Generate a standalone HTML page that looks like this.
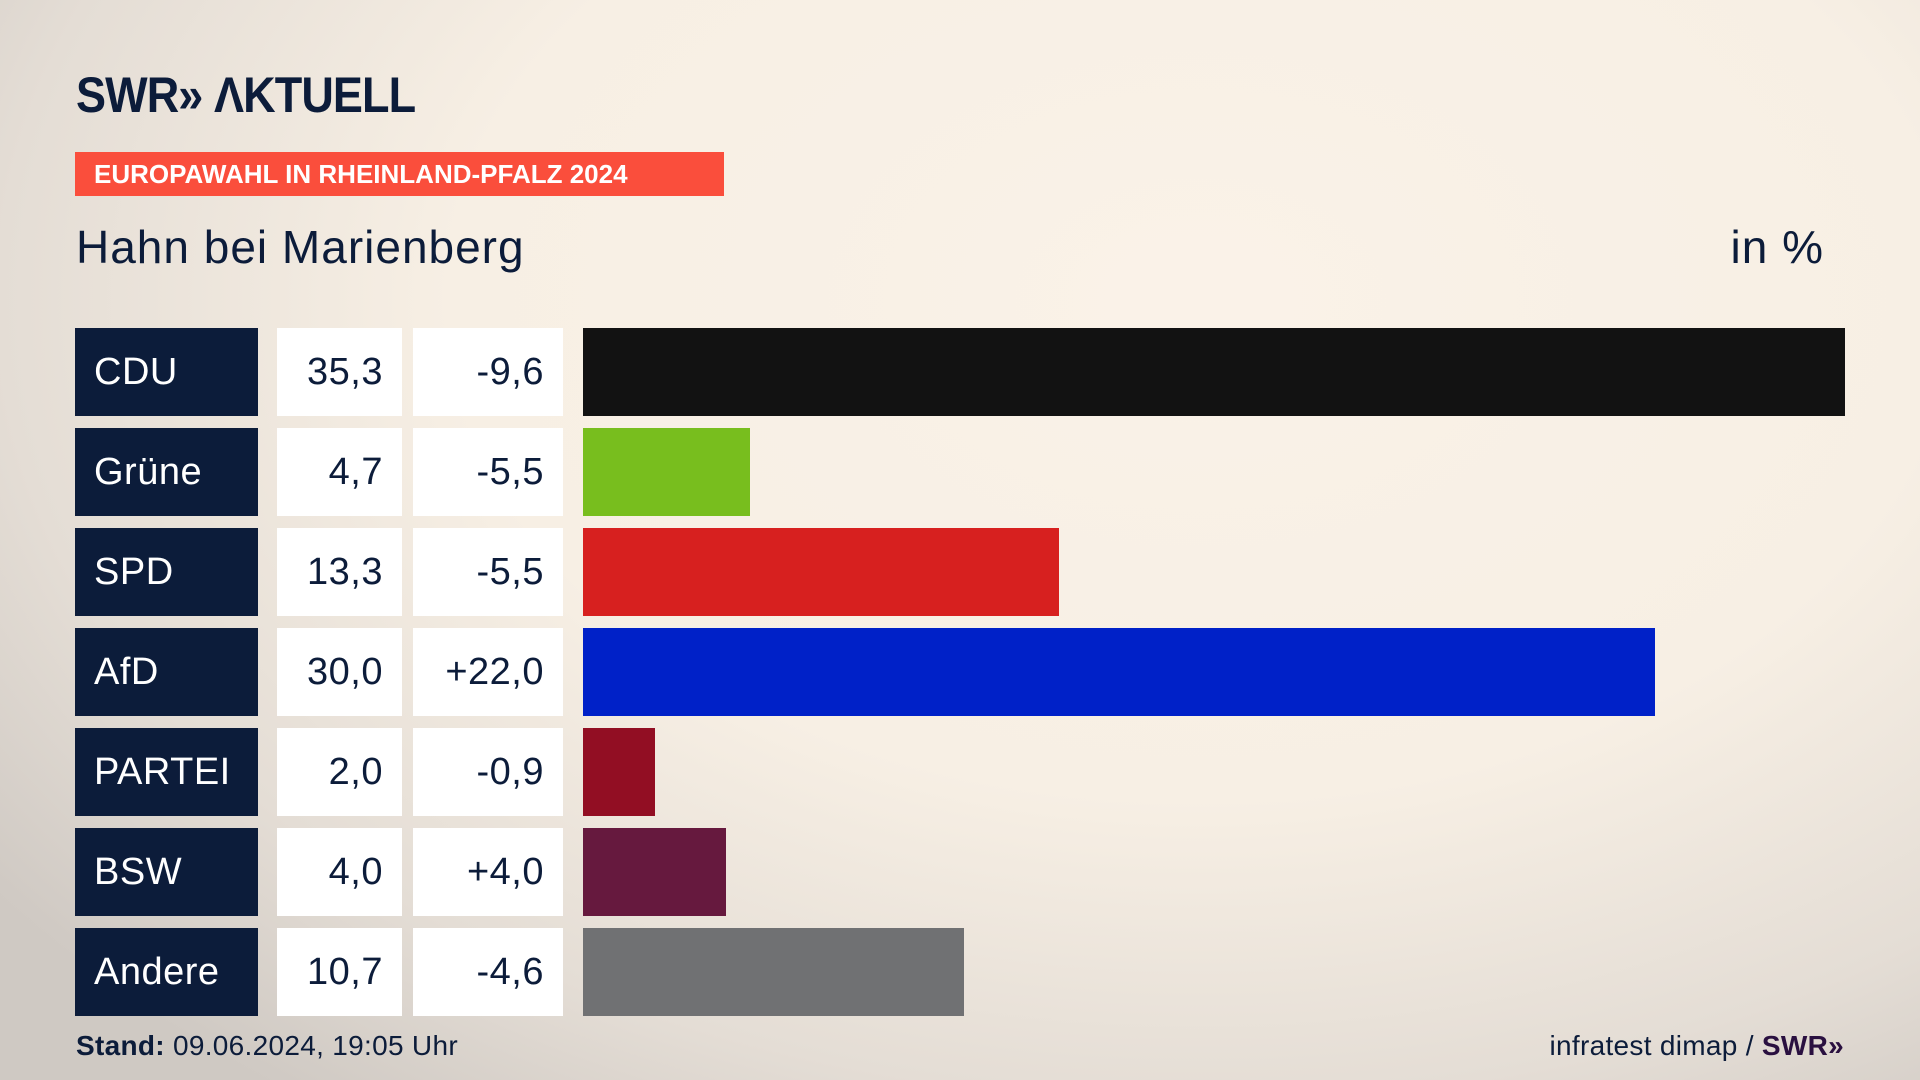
<!DOCTYPE html>
<html><head><meta charset="utf-8"><style>
body{margin:0;width:1920px;height:1080px;overflow:hidden;font-family:"Liberation Sans",sans-serif;color:#0c1c3a;
background:radial-gradient(ellipse 1500px 1000px at 1200px 300px,#faf2e8 0%,#f7efe4 50%,#e4ddd5 80%,#cfc9c3 100%);position:relative}
.a{position:absolute}
.logo{left:76px;top:66px;font-size:50px;font-weight:bold;letter-spacing:-1px;transform:scaleX(.9);transform-origin:left}
.ban{left:75px;top:152px;width:649px;height:44px;background:#fa4e3c;color:#fff;font-weight:bold;font-size:26px;line-height:44px;padding-left:19px;box-sizing:border-box}
.t{top:220px;font-size:46px;letter-spacing:1px}
.p{left:75px;width:183px;height:88px;background:#0c1c3a;color:#fff;font-size:38px;line-height:88px;padding-left:19px;box-sizing:border-box;letter-spacing:.5px}
.v{left:277px;width:125px;height:88px;background:#fff;font-size:38px;line-height:88px;text-align:right;padding-right:19px;box-sizing:border-box;letter-spacing:.5px}
.d{left:413px;width:150px;height:88px;background:#fff;font-size:38px;line-height:88px;text-align:right;padding-right:19px;box-sizing:border-box;letter-spacing:.5px}
.b{left:583px;height:88px}
.f{top:1030px;font-size:28px;letter-spacing:.3px}
</style></head><body>
<div class="a logo">SWR» ΛKTUELL</div>
<div class="a ban">EUROPAWAHL IN RHEINLAND-PFALZ 2024</div>
<div class="a t" style="left:76px">Hahn bei Marienberg</div>
<div class="a t" style="right:96px">in %</div>

<div class="a p" style="top:328px">CDU</div><div class="a v" style="top:328px">35,3</div><div class="a d" style="top:328px">-9,6</div><div class="a b" style="top:328px;width:1262px;background:#121212"></div>
<div class="a p" style="top:428px">Grüne</div><div class="a v" style="top:428px">4,7</div><div class="a d" style="top:428px">-5,5</div><div class="a b" style="top:428px;width:167px;background:#78be1e"></div>
<div class="a p" style="top:528px">SPD</div><div class="a v" style="top:528px">13,3</div><div class="a d" style="top:528px">-5,5</div><div class="a b" style="top:528px;width:476px;background:#d7201f"></div>
<div class="a p" style="top:628px">AfD</div><div class="a v" style="top:628px">30,0</div><div class="a d" style="top:628px">+22,0</div><div class="a b" style="top:628px;width:1072px;background:#0021c8"></div>
<div class="a p" style="top:728px">PARTEI</div><div class="a v" style="top:728px">2,0</div><div class="a d" style="top:728px">-0,9</div><div class="a b" style="top:728px;width:72px;background:#920e23"></div>
<div class="a p" style="top:828px">BSW</div><div class="a v" style="top:828px">4,0</div><div class="a d" style="top:828px">+4,0</div><div class="a b" style="top:828px;width:143px;background:#66193e"></div>
<div class="a p" style="top:928px">Andere</div><div class="a v" style="top:928px">10,7</div><div class="a d" style="top:928px">-4,6</div><div class="a b" style="top:928px;width:381px;background:#707173"></div>

<div class="a f" style="left:76px"><b>Stand:</b> 09.06.2024, 19:05 Uhr</div>
<div class="a f" style="right:76px">infratest dimap / <b style="color:#2a1040">SWR»</b></div>
</body></html>
